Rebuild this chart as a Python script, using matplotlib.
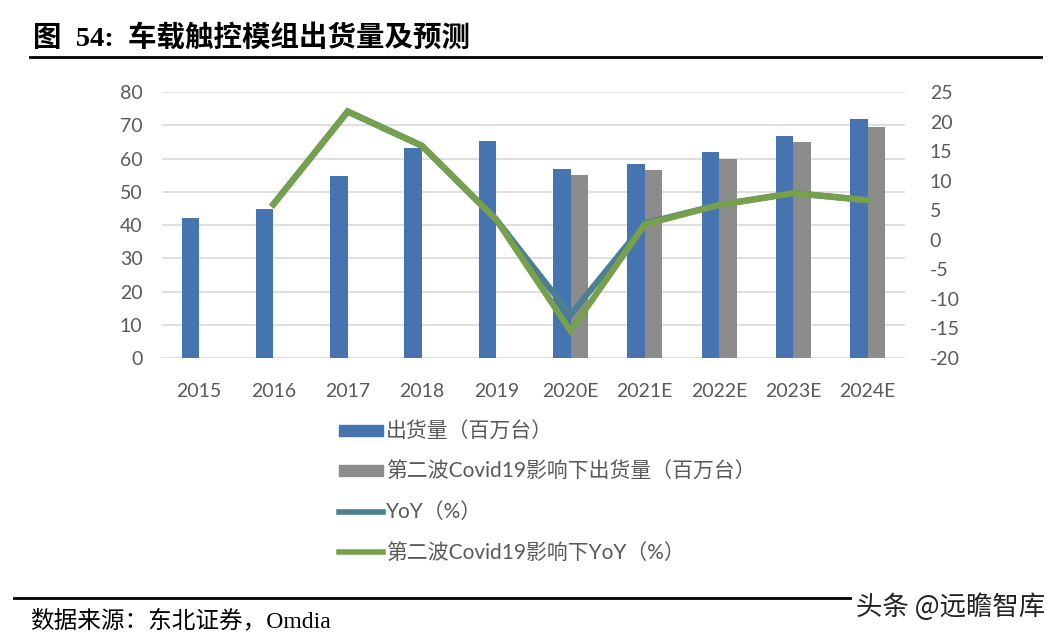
import matplotlib
matplotlib.use("Agg")
import matplotlib.pyplot as plt
from matplotlib.patches import Patch
from matplotlib.lines import Line2D
import numpy as np

# ----------------------------------------------------------------------------------------------------------------------
years = ["2015", "2016", "2017", "2018", "2019", "2020E", "2021E", "2022E", "2023E", "2024E"]
shipments = [42.2, 44.9, 54.7, 63.1, 65.3, 56.8, 58.5, 62.0, 66.9, 71.8]
shipments_covid = [np.nan, np.nan, np.nan, np.nan, np.nan, 55.0, 56.4, 59.8, 64.9, 69.4]
yoy = [np.nan, 6.0, 21.7, 15.9, 3.4, -12.7, 2.8, 5.9, 7.9, 6.7]
yoy_covid = [np.nan, 6.0, 21.7, 15.9, 3.4, -15.4, 2.6, 5.9, 7.9, 6.7]

labels = ["出货量（百万台）", "第二波Covid19影响下出货量（百万台）", "YoY（%）", "第二波Covid19影响下YoY（%）"]
title = "图  54:  车载触控模组出货量及预测"
source = "数据来源：东北证券，Omdia"
watermark = "头条 @远瞻智库"

BLUE = "#4674B1"
GREY = "#8C8C8C"
TEAL = "#4C7F92"
GREEN = "#77A04C"
TICK = "#595959"
CJK = ["Lato", "Noto Sans CJK SC", "DejaVu Sans"]
SERIF = ["Liberation Serif", "Noto Sans CJK SC"]

plt.rcParams["font.family"] = CJK
plt.rcParams["axes.unicode_minus"] = False

# ----------------------------------------------------------------------------------------------------------------------
fig = plt.figure(figsize=(10.62, 6.43), dpi=100)
ax = fig.add_axes([0.1525, 0.4432, 0.6995, 0.4137])
ax2 = ax.twinx()

x = np.arange(len(years))
w = 0.236
ax.bar(x - w / 2, shipments, width=w, color=BLUE, zorder=2)
ax.bar(x + w / 2, shipments_covid, width=w, color=GREY, zorder=2)

ax2.plot(x, yoy, color=TEAL, lw=4.5, solid_joinstyle="miter", zorder=3)
ax2.plot(x, yoy_covid, color=GREEN, lw=4.5, solid_joinstyle="miter", zorder=4)

ax.set_xlim(-0.5, len(years) - 0.5)
ax.set_ylim(0, 80)
ax.set_yticks(range(0, 81, 10))
ax2.set_ylim(-20, 25)
ax2.set_yticks(range(-20, 26, 5))

ax.grid(axis="y", color="#D9D9D9", lw=1.2, zorder=0)
ax.set_axisbelow(True)
for a in (ax, ax2):
    for s in a.spines.values():
        s.set_visible(False)
    a.tick_params(length=0, labelsize=14, labelcolor=TICK)

ax.set_xticks(x)
ax.set_xticklabels(years)
ax.tick_params(axis="x", pad=18)
ax.tick_params(axis="y", pad=14)
ax2.tick_params(axis="y", pad=18)

# legend
handles = [
    Patch(color=BLUE),
    Patch(color=GREY),
    Line2D([], [], color=TEAL, lw=4),
    Line2D([], [], color=GREEN, lw=4),
]
fig.legend(handles, labels, loc="upper left", bbox_to_anchor=(0.319, 0.344), frameon=False,
           fontsize=15, labelcolor=TICK, handlelength=2.1, handleheight=0.45, handletextpad=0.15,
           labelspacing=0.97, borderaxespad=0, borderpad=0)

# header / footer
fig.text(0.031, 0.941, title, fontsize=20.5, fontweight="bold", family=SERIF, va="center")
fig.add_artist(Line2D([0.028, 0.98], [0.911, 0.911], color="black", lw=2))
fig.add_artist(Line2D([0.013, 0.80], [0.07, 0.07], color="black", lw=2))
fig.text(0.028, 0.034, source, fontsize=17, family=SERIF, va="center")
fig.text(0.984, 0.055, watermark, fontsize=19, family=["Noto Sans CJK SC"], color="#222222",
         ha="right", va="center")

fig.savefig("out.png", dpi=100)
